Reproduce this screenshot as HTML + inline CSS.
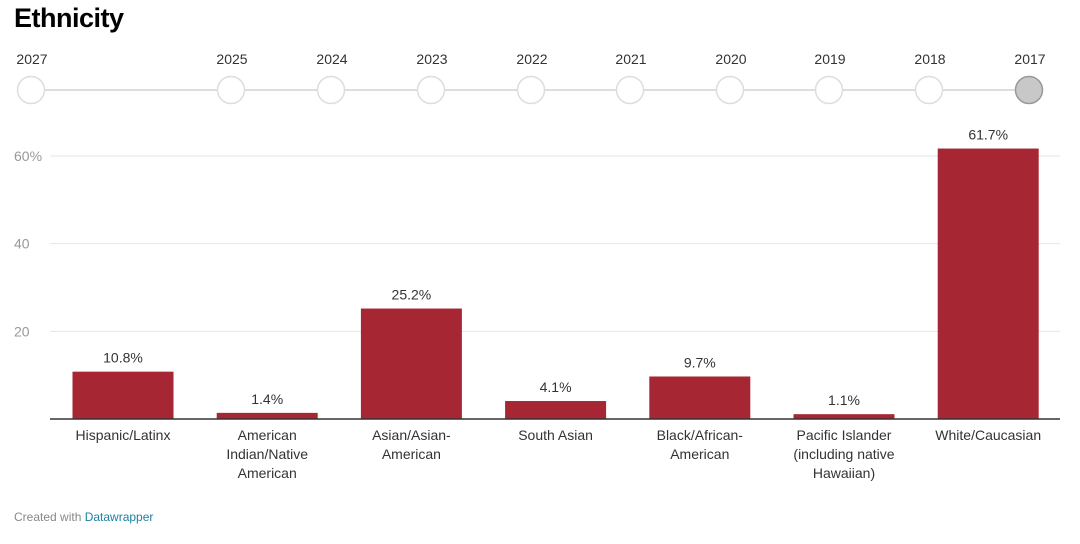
<!DOCTYPE html>
<html><head><meta charset="utf-8"><style>
body{margin:0;width:1080px;height:544px;background:#fff;font-family:"Liberation Sans",sans-serif;overflow:hidden;position:relative}
.t{position:absolute}
</style></head><body>
<div class="t" style="left:14px;top:3px;font-size:27px;font-weight:bold;color:#000;letter-spacing:-0.5px">Ethnicity</div>
<svg width="1080" height="544" style="position:absolute;left:0;top:0">
<g id="timeline"></g>
<g id="plot"></g>
</svg>
<div class="t" style="left:14px;top:510px;font-size:12px;color:#888">Created with <span style="color:#1d81a2">Datawrapper</span></div>
<script>
const years=["2027","2025","2024","2023","2022","2021","2020","2019","2018","2017"];
const yearX=[31,231,331,431,531,630,730,829,929,1029];
const categories=["Hispanic/Latinx","American|Indian/Native|American","Asian/Asian-|American","South Asian","Black/African-|American","Pacific Islander|(including native|Hawaiian)","White/Caucasian"];
const values=[10.8,1.4,25.2,4.1,9.7,1.1,61.7];
const ticks=[20,40,60];
const NS="http://www.w3.org/2000/svg";
function mk(t,a,p){const e=document.createElementNS(NS,t);for(const k in a)e.setAttribute(k,a[k]);p.appendChild(e);return e;}
const tl=document.getElementById('timeline');
const ln=mk('line',{x1:31,x2:1029,y1:90,y2:90,stroke:'#ddd','stroke-width':2},tl);


years.forEach((y,i)=>{
 const sel=i===years.length-1;
 const c=mk('circle',{cx:yearX[i],cy:90,r:13.5,fill:sel?'#c8c8c8':'#fff',stroke:sel?'#999':'#ddd','stroke-width':1.5},tl);
 
 
 const t=mk('text',{x:yearX[i]+1,y:64,'text-anchor':'middle','font-size':14,fill:'#333'},tl);
 t.textContent=y;
 
 
});
const pl=document.getElementById('plot');
const y0=419,pxPer=(419-156)/60;
const yS=v=>y0-v*pxPer;
const xS=i=>123+i*144.2;
const bw=101;
ticks.forEach(v=>{
 const g=mk('line',{x1:50,x2:1060,y1:yS(v),y2:yS(v),stroke:'#e6e6e6','stroke-width':1},pl);
 
 
 const t=mk('text',{x:14,y:yS(v)+5,'font-size':14,fill:'#999'},pl);
 t.textContent=v===60?'60%':String(v);
 
 
});
values.forEach((v,i)=>{
 const r=mk('rect',{x:xS(i)-bw/2,y:yS(v),width:bw,height:y0-yS(v),fill:'#a72633'},pl);
 
 
 const t=mk('text',{x:xS(i),y:yS(v)-9,'text-anchor':'middle','font-size':14,fill:'#333'},pl);
 t.textContent=v.toFixed(1)+'%';
 
 
 categories[i].split('|').forEach((s,j)=>{
  const c=mk('text',{x:xS(i),y:440+j*19,'text-anchor':'middle','font-size':14,fill:'#333'},pl);
  c.textContent=s;
  
  
 });
});
const ax=mk('line',{x1:50,x2:1060,y1:y0,y2:y0,stroke:'#333','stroke-width':1.5},pl);


</script>
</body></html>
